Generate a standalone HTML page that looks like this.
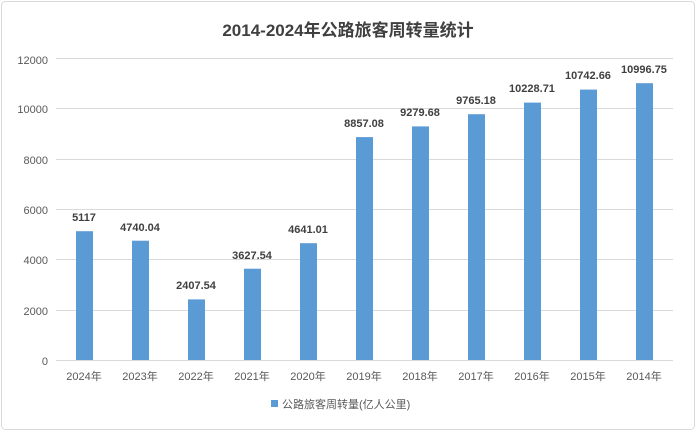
<!DOCTYPE html>
<html><head><meta charset="utf-8"><style>
body{margin:0;background:#fff;}
svg{display:block;}
</style></head><body>
<svg width="697" height="432" viewBox="0 0 697 432" xmlns="http://www.w3.org/2000/svg" font-family="Liberation Sans, Noto Sans CJK SC, sans-serif">
<rect x="1.5" y="1.5" width="693" height="428" rx="4" fill="#fff" stroke="#d9d9d9"/>
<text x="348" y="36" text-anchor="middle" font-size="17" font-weight="bold" fill="#404040">2014-2024年公路旅客周转量统计</text>
<g stroke="#d9d9d9" stroke-width="1">
<line x1="56" y1="58.5" x2="673" y2="58.5"/>
<line x1="56" y1="108.5" x2="673" y2="108.5"/>
<line x1="56" y1="159.5" x2="673" y2="159.5"/>
<line x1="56" y1="209.5" x2="673" y2="209.5"/>
<line x1="56" y1="259.5" x2="673" y2="259.5"/>
<line x1="56" y1="310.5" x2="673" y2="310.5"/>
<line x1="56" y1="360.5" x2="673" y2="360.5"/>
</g>
<g font-size="11" fill="#595959" text-anchor="end">
<text x="48" y="64">12000</text><text x="48" y="113">10000</text><text x="48" y="164">8000</text>
<text x="48" y="214">6000</text><text x="48" y="264">4000</text><text x="48" y="315">2000</text><text x="48" y="365">0</text>
</g>
<g fill="#5b9bd5">
<rect x="76" y="231.2" width="17" height="128.8"/>
<rect x="132" y="240.7" width="17" height="119.3"/>
<rect x="188" y="299.4" width="17" height="60.6"/>
<rect x="244" y="268.7" width="17" height="91.3"/>
<rect x="300" y="243.2" width="17" height="116.8"/>
<rect x="356" y="137.1" width="17" height="222.9"/>
<rect x="412" y="126.4" width="17" height="233.6"/>
<rect x="468" y="114.2" width="17" height="245.8"/>
<rect x="524" y="102.6" width="17" height="257.4"/>
<rect x="580" y="89.6" width="17" height="270.4"/>
<rect x="636" y="83.2" width="17" height="276.8"/>
</g>
<g font-size="11" font-weight="bold" fill="#404040" text-anchor="middle">
<text x="84" y="221">5117</text>
<text x="140" y="231">4740.04</text>
<text x="196" y="289">2407.54</text>
<text x="252" y="259">3627.54</text>
<text x="308" y="233">4641.01</text>
<text x="364" y="127">8857.08</text>
<text x="420" y="116">9279.68</text>
<text x="476" y="104">9765.18</text>
<text x="532" y="92">10228.71</text>
<text x="588" y="79">10742.66</text>
<text x="644" y="73">10996.75</text>
</g>
<g font-size="11" fill="#595959" text-anchor="middle">
<text x="84" y="380">2024年</text><text x="140" y="380">2023年</text><text x="196" y="380">2022年</text>
<text x="252" y="380">2021年</text><text x="308" y="380">2020年</text><text x="364" y="380">2019年</text>
<text x="420" y="380">2018年</text><text x="476" y="380">2017年</text><text x="532" y="380">2016年</text>
<text x="588" y="380">2015年</text><text x="644" y="380">2014年</text>
</g>
<rect x="271" y="400" width="7" height="7" fill="#5b9bd5"/>
<text x="282" y="408" font-size="11" fill="#595959">公路旅客周转量(亿人公里)</text>
</svg>
</body></html>
